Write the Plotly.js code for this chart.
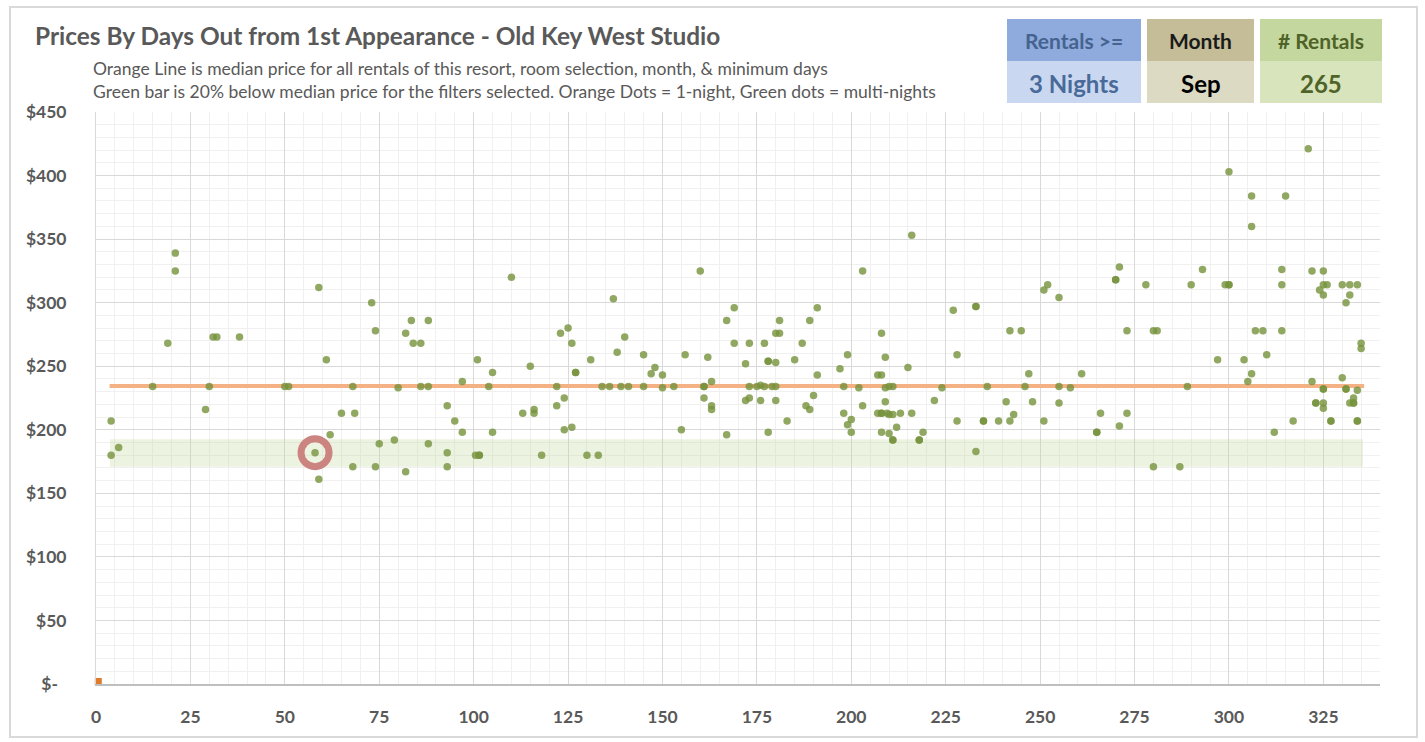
<!DOCTYPE html>
<html>
<head>
<meta charset="utf-8">
<script src="https://cdn.plot.ly/plotly-3.0.1.min.js"></script>
<style>html,body{margin:0;padding:0;background:#fff;}#chart{width:1425px;height:742px;}</style>
</head>
<body>
<div id="chart"></div>
<script>
// ---------- data ----------
const daysOut = [
4,4,6,15,21,21,19,29,30,31,32,38,50,51,59,61,58,59,62,65,68.5,68,68,73,74,74,75,79,80,82,83.5,84,82,
86,88,86,88,88,93,93,93,95,97,97,101,100.5,101.5,101.5,104,105,105,110,113,115,116,116,118,122,122,123,124,124,125,126,126,127,127,130,131,133,134,136,137,138,139,141,140,145,145,147,148,150,150,153,155,156,160,161,161,161,162,163,163,163,167,167,169,169,
173,172,173,172,173,175,176,177,176,177,178,178,178,179,180,180,180,180,181,181,183,185,187,188,189,189,191,191,190,197,198,198,199,199,200,200,202,203,203,207,208,207,208,208,208,208,209,209,209,209.5,210,210,210,211,211,211,211,212,213,215,216,216,218,218,219,222,224,227,228,228,233,233,233,235,235,236,239,241,242,242,243,245,246,247,248,251,251,252,
255,255,255,258,261,265,265,266,270,270,271,271,273,273,278,280,281,280,287,289,290,293,297,299,300,300,300,304,305,306,306,306,307,309,310,312,314,314,314,315,317,321,322,322,323,323,325,325,326,324,325,325,325,325,325,327,327,330,332,334,330,331,332,331,331,334,333,332,333,333,334,334,335,335
];
const price = [
207,180,186,234,339,325,268,216,234,273,273,273,234,234,312,255,182,161,196,213,213,234,171,300,278,171,189,192,233,276,286,268,167,
268,286,234,234,189,219,182,171,207,238,198,255,180,180,180,234,245,198,320,213,250,216,213,180,234,219,276,225,200,280,268,202,245,245,180,255,180,234,234,303,261,234,234,273,259,234,244,249,243,233,234,200,259,325,234,234,225,257,238,219,216,196,286,296,268,
268,252,234,223,225,234,235,234,223,268,254,254,198,234,234,253,223,276,276,286,207,255,268,219,216,286,296,243,227,248,234,213,259,204,208,198,233,325,219,243,243,213,213,213,276,198,257,233,222,213,212,197,234,234,212,192,192,202,213,249,353,213,192,192,198,223,233,294,259,207,297,297,183,207,207,234,207,222,278,207,212,278,234,244,222,207,310,314,
304,234,221,233,244,198,198,213,318,318,328,203,278,213,314,278,278,171,171,234,314,326,255,314,314,314,403,255,238,244,384,360,278,278,259,198,326,314,278,384,207,421,325,238,221,221,325,314,314,310,306,232,232,221,217,207,207,314,314,314,241,300,306,232,232,231,225,221,221,221,207,207,268,264
];
const oneNightDays = [0.6];
const oneNightPrice = [2];
const medianX = [3.6, 335.8];
const medianY = [234.5, 234.5];
const bandX = [3.7, 335.5];
const bandLow = [171, 171];
const bandHigh = [192.5, 192.5];
const highlightDay = [58];
const highlightPrice = [182];
const yTickVals = [0, 50, 100, 150, 200, 250, 300, 350, 400, 450];
const yTickText = ["$-\u00a0\u00a0", "$50", "$100", "$150", "$200", "$250", "$300", "$350", "$400", "$450"];
const xTickVals = [0, 25, 50, 75, 100, 125, 150, 175, 200, 225, 250, 275, 300, 325];
const titleText = "Prices By Days Out from 1st Appearance - Old Key West Studio";
const subLine1 = "Orange Line is median price for all rentals of this resort, room selection, month, & minimum days";
const subLine2 = "Green bar is 20% below median price for the filters selected. Orange Dots = 1-night, Green dots = multi-nights";
const boxHeaders = ["Rentals >=", "Month", "# Rentals"];
const boxValues = ["3 Nights", "Sep", "265"];

// ---------- layout helpers ----------
const W = 1425, H = 742, ML = 96, MR = 45, MT = 112, MB = 58;
const PW = W - ML - MR, PH = H - MT - MB;
const px = v => (v - ML) / PW;
const py = v => (H - MB - v) / PH;
const FONT = "Lato, 'Open Sans', sans-serif";
const GREY = "#595959";

const traces = [
  {x: bandX, y: bandLow, type: "scatter", mode: "lines", line: {width: 0, color: "rgba(0,0,0,0)"}, hoverinfo: "skip", showlegend: false},
  {x: bandX, y: bandHigh, type: "scatter", mode: "lines", fill: "tonexty", fillcolor: "rgba(196,215,155,0.3)", line: {width: 0, color: "rgba(0,0,0,0)"}, hoverinfo: "skip", showlegend: false},
  {x: medianX, y: medianY, type: "scatter", mode: "lines", line: {color: "#F4B183", width: 4}, showlegend: false},
  {x: highlightDay, y: highlightPrice, type: "scatter", mode: "markers", marker: {symbol: "circle-open", size: 28, color: "#CC8480", line: {width: 7, color: "#CC8480"}}, showlegend: false},
  {x: daysOut, y: price, type: "scatter", mode: "markers", marker: {size: 7.5, color: "rgba(118,146,60,0.8)", line: {width: 0}}, showlegend: false},
  {x: oneNightDays, y: oneNightPrice, type: "scatter", mode: "markers", cliponaxis: false, marker: {symbol: "square", size: 7, color: "#E07B2B", line: {width: 0}}, showlegend: false}
];

const boxX = [[1007, 1141], [1147, 1254], [1260, 1382]];
const headColors = ["#8FAADC", "#C4BD97", "#C4D79E"];
const lowColors = ["#C9D8F0", "#DDDAC4", "#D8E4BC"];
const headText = ["#44648F", "#1a1a1a", "#4F6228"];
const valText = ["#4A6A9A", "#000000", "#4F6228"];

const shapes = [
  {type: "rect", xref: "paper", yref: "paper", x0: px(10), x1: px(1417), y0: py(737), y1: py(7), line: {color: "#D9D9D9", width: 2}, fillcolor: "rgba(0,0,0,0)", layer: "below"}
];
const annotations = [
  {text: titleText, xref: "paper", yref: "paper", x: px(33), y: py(36), xanchor: "left", yanchor: "middle", showarrow: false, font: {family: FONT, size: 24.4, color: GREY, weight: "bold"}},
  {text: subLine1, xref: "paper", yref: "paper", x: px(91), y: py(69), xanchor: "left", yanchor: "middle", showarrow: false, font: {family: FONT, size: 17.5, color: GREY}},
  {text: subLine2, xref: "paper", yref: "paper", x: px(91), y: py(91), xanchor: "left", yanchor: "middle", showarrow: false, font: {family: FONT, size: 17.5, color: GREY}}
];
for (let i = 0; i < 3; i++) {
  const [a, b] = boxX[i];
  shapes.push({type: "rect", xref: "paper", yref: "paper", x0: px(a), x1: px(b), y0: py(61), y1: py(19), line: {width: 0}, fillcolor: headColors[i]});
  shapes.push({type: "rect", xref: "paper", yref: "paper", x0: px(a), x1: px(b), y0: py(103), y1: py(61), line: {width: 0}, fillcolor: lowColors[i]});
  annotations.push({text: boxHeaders[i], xref: "paper", yref: "paper", x: px((a + b) / 2), y: py(41), xanchor: "center", yanchor: "middle", showarrow: false, font: {family: FONT, size: 21, color: headText[i], weight: "bold"}});
  annotations.push({text: boxValues[i], xref: "paper", yref: "paper", x: px((a + b) / 2), y: py(83), xanchor: "center", yanchor: "middle", showarrow: false, font: {family: FONT, size: 24, color: valText[i], weight: "bold"}});
}

const layout = {
  width: W, height: H,
  margin: {l: ML, r: MR, t: MT, b: MB, pad: 0},
  paper_bgcolor: "#ffffff", plot_bgcolor: "#ffffff",
  showlegend: false,
  font: {family: FONT, color: GREY},
  xaxis: {
    range: [0, 340], tickvals: xTickVals, ticktext: xTickVals.map(String),
    showgrid: true, gridcolor: "#D9D9D9", gridwidth: 1,
    minor: {dtick: 5, tick0: 0, showgrid: true, gridcolor: "#F0F0F0", gridwidth: 1},
    showline: true, linecolor: "#BFBFBF", linewidth: 2,
    zeroline: false, ticks: "outside", ticklen: 16, tickcolor: "rgba(0,0,0,0)",
    tickfont: {family: FONT, size: 17.5, color: GREY, weight: "bold"}
  },
  yaxis: {
    range: [0, 450], tickvals: yTickVals, ticktext: yTickText,
    showgrid: true, gridcolor: "#D9D9D9", gridwidth: 1,
    minor: {dtick: 10, tick0: 0, showgrid: true, gridcolor: "#F0F0F0", gridwidth: 1},
    showline: true, linecolor: "#D9D9D9", linewidth: 1,
    zeroline: false, ticks: "outside", ticklen: 25, tickcolor: "rgba(0,0,0,0)",
    tickfont: {family: FONT, size: 17.5, color: GREY, weight: "bold"}
  },
  shapes: shapes,
  annotations: annotations
};

Plotly.newPlot("chart", traces, layout, {displayModeBar: false, staticPlot: true});
</script>
</body>
</html>
